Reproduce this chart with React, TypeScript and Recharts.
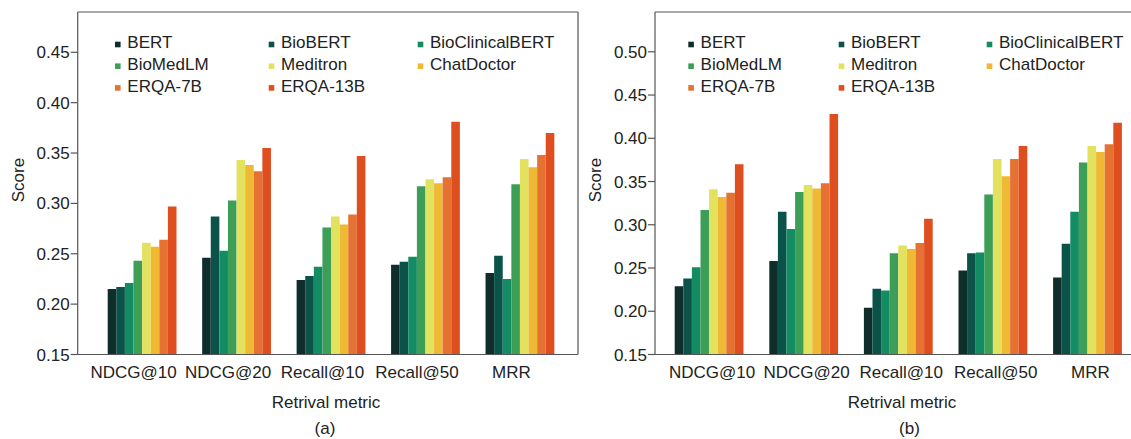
import React from 'react';
import { BarChart, Bar, XAxis, YAxis, Legend, Label } from 'recharts';

const metrics = ['NDCG@10', 'NDCG@20', 'Recall@10', 'Recall@50', 'MRR'];
const models = ['BERT', 'BioBERT', 'BioClinicalBERT', 'BioMedLM', 'Meditron', 'ChatDoctor', 'ERQA-7B', 'ERQA-13B'];
const colors = ['#0f2d2a', '#0b5248', '#138c64', '#3d9e58', '#e2e25e', '#efb934', '#e57232', '#de4e1e'];

// Panel (a)
const bertA = [0.215, 0.246, 0.224, 0.239, 0.231];
const biobertA = [0.217, 0.287, 0.228, 0.242, 0.248];
const bioclinA = [0.221, 0.253, 0.237, 0.247, 0.225];
const biomedA = [0.243, 0.303, 0.276, 0.317, 0.319];
const meditronA = [0.261, 0.343, 0.287, 0.324, 0.344];
const chatdocA = [0.257, 0.338, 0.279, 0.320, 0.336];
const erqa7A = [0.264, 0.332, 0.289, 0.326, 0.348];
const erqa13A = [0.297, 0.355, 0.347, 0.381, 0.370];

// Panel (b)
const bertB = [0.229, 0.258, 0.204, 0.247, 0.239];
const biobertB = [0.238, 0.315, 0.226, 0.267, 0.278];
const bioclinB = [0.251, 0.295, 0.224, 0.268, 0.315];
const biomedB = [0.317, 0.338, 0.267, 0.335, 0.372];
const meditronB = [0.341, 0.346, 0.276, 0.376, 0.391];
const chatdocB = [0.332, 0.342, 0.272, 0.356, 0.384];
const erqa7B = [0.337, 0.348, 0.279, 0.376, 0.393];
const erqa13B = [0.370, 0.428, 0.307, 0.391, 0.418];

const ticksA = [0.15, 0.2, 0.25, 0.3, 0.35, 0.4, 0.45];
const ticksB = [0.15, 0.2, 0.25, 0.3, 0.35, 0.4, 0.45, 0.5];

const seriesA = [bertA, biobertA, bioclinA, biomedA, meditronA, chatdocA, erqa7A, erqa13A];
const seriesB = [bertB, biobertB, bioclinB, biomedB, meditronB, chatdocB, erqa7B, erqa13B];

const build = (series: number[][]) =>
  metrics.map((m, i) => {
    const row: Record<string, string | number> = { metric: m };
    models.forEach((name, k) => {
      row[name] = series[k][i];
    });
    return row;
  });

const dataA = build(seriesA);
const dataB = build(seriesB);

const FONT = '"Liberation Sans", Arial, Helvetica, sans-serif';
const TEXT = '#222';
const AXIS = '#555';

const MetricTick = (props: any) => {
  const { x, payload, shift } = props;
  return (
    <text x={x + shift} y={377.5} textAnchor="middle" fontSize={17} fill={TEXT} fontFamily={FONT}>
      {payload.value}
    </text>
  );
};

const LegendBox = ({ cols, w, h }: { cols: number[]; w: number; h: number }) => {
  const baselines = [48.3, 70, 91.7];
  return (
    <svg width={w} height={h} style={{ position: 'absolute', left: 0, top: 0, pointerEvents: 'none' }}>
      {models.map((name, i) => {
        const col = i % 3;
        const row = Math.floor(i / 3);
        const tx = cols[col];
        const by = baselines[row];
        return (
          <g key={name}>
            <rect x={tx - 12.3} y={by - 6.6} width={5.6} height={5.6} fill={colors[i]} />
            <text x={tx} y={by} fontSize={17} fill={TEXT} fontFamily={FONT}>
              {name}
            </text>
          </g>
        );
      })}
    </svg>
  );
};

type PanelProps = {
  data: any[];
  width: number;
  left: number;
  plotLeft: number;
  plotRight: number;
  domain: [number, number];
  ticks: number[];
  padding: { left: number; right: number };
  tickShift: number;
  legendCols: number[];
  titleX: number;
  tagX: number;
  tag: string;
  scoreX: number;
};

const YW = 60;
const XH = 30;

const Panel = (p: PanelProps) => (
  <div style={{ position: 'absolute', left: p.left, top: 0 }}>
    <BarChart
      width={p.width}
      height={439}
      data={p.data}
      margin={{ top: 11, right: p.width - p.plotRight - 1, bottom: 439 - 354.5 - XH, left: p.plotLeft - YW }}
      barGap={0}
      barSize={8.6}
      style={{ fontFamily: FONT }}
    >
      <XAxis
        dataKey="metric"
        height={XH}
        interval={0}
        tickLine={false}
        tickSize={0}
        axisLine={{ stroke: AXIS, strokeWidth: 1.2 }}
        padding={p.padding}
        tick={<MetricTick shift={p.tickShift} />}
      >
        <Label
          content={() => (
            <text x={p.titleX} y={407.5} textAnchor="middle" fontSize={17} fill={TEXT} fontFamily={FONT}>
              Retrival metric
            </text>
          )}
        />
      </XAxis>
      <XAxis
        xAxisId="top"
        orientation="top"
        dataKey="metric"
        height={1}
        tick={false}
        tickLine={false}
        axisLine={{ stroke: AXIS, strokeWidth: 1.2 }}
      >
        <Label
          content={() => (
            <text x={p.tagX} y={434} textAnchor="middle" fontSize={17} fill={TEXT} fontFamily={FONT}>
              {p.tag}
            </text>
          )}
        />
      </XAxis>
      <YAxis
        type="number"
        width={YW}
        domain={p.domain}
        ticks={p.ticks}
        allowDataOverflow
        tickSize={7}
        tickMargin={1}
        tickLine={{ stroke: AXIS, strokeWidth: 1.2 }}
        axisLine={{ stroke: AXIS, strokeWidth: 1.2 }}
        tickFormatter={(v: number) => v.toFixed(2)}
        tick={{ fontSize: 17, fill: TEXT, fontFamily: FONT }}
      >
        <Label
          content={() => (
            <text
              x={p.scoreX}
              y={180}
              textAnchor="middle"
              fontSize={17}
              fill={TEXT}
              fontFamily={FONT}
              transform={`rotate(-90 ${p.scoreX} 180)`}
            >
              Score
            </text>
          )}
        />
      </YAxis>
      <YAxis
        yAxisId="right"
        orientation="right"
        width={1}
        domain={[0, 1]}
        tick={false}
        tickLine={false}
        axisLine={{ stroke: AXIS, strokeWidth: 1.2 }}
      />
      <Legend
        layout="horizontal"
        verticalAlign="middle"
        align="center"
        wrapperStyle={{ position: 'absolute', left: 0, top: 0, width: p.width, height: 439, pointerEvents: 'none' }}
        content={() => <LegendBox cols={p.legendCols} w={p.width} h={439} />}
      />
      {models.map((name, i) => (
        <Bar key={name} dataKey={name} fill={colors[i]} isAnimationActive={false} />
      ))}
    </BarChart>
  </div>
);

export default function App() {
  return (
    <div
      style={{
        position: 'fixed',
        left: 0,
        top: 0,
        width: 1131,
        height: 439,
        overflow: 'hidden',
        background: '#ffffff',
      }}
    >
      <Panel
        data={dataA}
        width={600}
        left={0}
        plotLeft={77.7}
        plotRight={578}
        domain={[0.15, 0.49]}
        ticks={ticksA}
        padding={{ left: 17, right: 11 }}
        tickShift={-8.3}
        legendCols={[127.3, 281, 430]}
        titleX={326}
        tagX={325}
        tag="(a)"
        scoreX={24}
      />
      <Panel
        data={dataB}
        width={590}
        left={570}
        plotLeft={85}
        plotRight={579}
        domain={[0.15, 0.546]}
        ticks={ticksB}
        padding={{ left: 6.7, right: 14.3 }}
        tickShift={3}
        legendCols={[130.6, 281, 429]}
        titleX={332}
        tagX={339.5}
        tag="(b)"
        scoreX={31}
      />
    </div>
  );
}
